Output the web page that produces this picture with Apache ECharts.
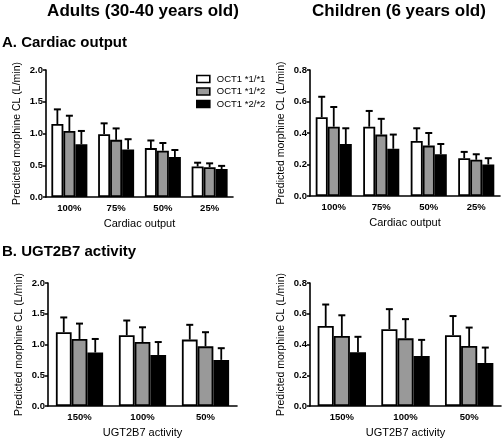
<!DOCTYPE html>
<html><head><meta charset="utf-8">
<script src="https://cdn.jsdelivr.net/npm/echarts@6/dist/echarts.min.js"></script>
<style>html,body{margin:0;padding:0;background:#fff}#c{width:502px;height:439px}</style>
</head><body><div id="c"></div>
<script>
const cardiacCats = ['100%','75%','50%','25%'];
const ugtCats = ['150%','100%','50%'];
const seriesNames = ['OCT1 *1/*1','OCT1 *1/*2','OCT1 *2/*2'];

// Adults, cardiac output
const adultCO_11 = [1.15,0.99,0.77,0.48], adultCO_11_sd = [0.23,0.17,0.12,0.06];
const adultCO_12 = [1.04,0.90,0.73,0.47], adultCO_12_sd = [0.24,0.18,0.12,0.06];
const adultCO_22 = [0.83,0.75,0.63,0.44], adultCO_22_sd = [0.21,0.16,0.11,0.05];
// Children, cardiac output
const childCO_11 = [0.50,0.44,0.35,0.24], childCO_11_sd = [0.13,0.10,0.08,0.04];
const childCO_12 = [0.44,0.39,0.32,0.23], childCO_12_sd = [0.125,0.10,0.08,0.035];
const childCO_22 = [0.33,0.30,0.265,0.20], childCO_22_sd = [0.10,0.09,0.065,0.04];
// Adults, UGT2B7 activity
const adultUGT_11 = [1.20,1.15,1.08], adultUGT_11_sd = [0.24,0.24,0.24];
const adultUGT_12 = [1.09,1.04,0.97], adultUGT_12_sd = [0.25,0.24,0.23];
const adultUGT_22 = [0.87,0.83,0.75], adultUGT_22_sd = [0.22,0.21,0.19];
// Children, UGT2B7 activity
const childUGT_11 = [0.52,0.50,0.46], childUGT_11_sd = [0.14,0.13,0.125];
const childUGT_12 = [0.455,0.44,0.39], childUGT_12_sd = [0.135,0.125,0.12];
const childUGT_22 = [0.35,0.325,0.28], childUGT_22_sd = [0.10,0.105,0.10];

const adultTicks = {min:0, max:2.0, interval:0.5};
const childTicks = {min:0, max:0.8, interval:0.2};

const fills = ['#ffffff','#999999','#000000'];
const FONT = 'Liberation Sans, Arial, sans-serif';

const panels = [
  {cats: cardiacCats, ticks: adultTicks, name:'Cardiac output', gap:0.23,
   vals:[adultCO_11,adultCO_12,adultCO_22], sds:[adultCO_11_sd,adultCO_12_sd,adultCO_22_sd],
   grid:{left:46, top:70, width:187, height:127}},
  {cats: cardiacCats, ticks: childTicks, name:'Cardiac output', gap:0.24,
   vals:[childCO_11,childCO_12,childCO_22], sds:[childCO_11_sd,childCO_12_sd,childCO_22_sd],
   grid:{left:310, top:70, width:190, height:126}},
  {cats: ugtCats, ticks: adultTicks, name:'UGT2B7 activity', gap:0.25,
   vals:[adultUGT_11,adultUGT_12,adultUGT_22], sds:[adultUGT_11_sd,adultUGT_12_sd,adultUGT_22_sd],
   grid:{left:48, top:283, width:189, height:124}},
  {cats: ugtCats, ticks: childTicks, name:'UGT2B7 activity', gap:0.24,
   vals:[childUGT_11,childUGT_12,childUGT_22], sds:[childUGT_11_sd,childUGT_12_sd,childUGT_22_sd],
   grid:{left:310, top:283, width:191, height:124}}
];

const grids=[], xAxes=[], yAxes=[], series=[];
panels.forEach((p, pi) => {
  grids.push(Object.assign({containLabel:false}, p.grid));
  xAxes.push({type:'category', gridIndex:pi, data:p.cats,
    name:p.name, nameLocation:'middle', nameGap:21,
    nameTextStyle:{fontFamily:FONT, fontSize:11, color:'#000'},
    axisLine:{lineStyle:{color:'#000', width:1.6}},
    axisTick:{show:false},
    axisLabel:{fontFamily:FONT, fontSize:9.5, fontWeight:'bold', color:'#000', margin:6}});
  yAxes.push({type:'value', gridIndex:pi, min:p.ticks.min, max:p.ticks.max, interval:p.ticks.interval,
    name:'Predicted morphine CL (L/min)', nameLocation:'middle', nameGap:23,
    nameTextStyle:{fontFamily:FONT, fontSize:10.5, color:'#000'},
    splitLine:{show:false},
    axisLine:{show:true, lineStyle:{color:'#000', width:1.6}},
    axisTick:{show:true, length:3, lineStyle:{color:'#000', width:1.5}},
    axisLabel:{fontFamily:FONT, fontSize:9.5, fontWeight:'bold', color:'#000', margin:3,
      formatter: v => v.toFixed(1)}});
  for (let s=0; s<3; s++) {
    series.push({type:'bar', name:seriesNames[s], xAxisIndex:pi, yAxisIndex:pi,
      data:p.vals[s], barGap:'0%', barCategoryGap:(p.gap*100)+'%',
      itemStyle:{color:fills[s], borderColor:'#000', borderWidth:1.8},
      emphasis:{disabled:true}, z:2});
  }
  for (let s=0; s<3; s++) {
    const gap = p.gap;
    const errData = p.vals[s].map((v,i)=>[i, v, v + p.sds[s][i]]);
    series.push({type:'custom', xAxisIndex:pi, yAxisIndex:pi, z:1,
      data: errData, encode:{x:0, y:[1,2]}, silent:true,
      renderItem:(params, api) => {
        const band = api.size([1,0])[0];
        const bw = band*(1-gap)/3;
        const off = (s-1)*bw;
        const base = api.coord([api.value(0), api.value(1)]);
        const top = api.coord([api.value(0), api.value(2)]);
        const x = base[0] + off;
        const cap = 3.5;
        return {type:'group', children:[
          {type:'line', shape:{x1:x, y1:base[1], x2:x, y2:top[1]}, style:{stroke:'#000', lineWidth:1.8}},
          {type:'line', shape:{x1:x-cap, y1:top[1], x2:x+cap, y2:top[1]}, style:{stroke:'#000', lineWidth:2}}
        ]};
      }});
  }
});

const option = {
  animation:false,
  backgroundColor:'#fff',
  title:[
    {text:'Adults (30-40 years old)', left:143, top:3, textAlign:'center', padding:0,
     textStyle:{fontFamily:FONT, fontSize:17, fontWeight:'bold', color:'#000'}},
    {text:'Children (6 years old)', left:399, top:3, textAlign:'center', padding:0,
     textStyle:{fontFamily:FONT, fontSize:17, fontWeight:'bold', color:'#000'}},
    {text:'A. Cardiac output', left:2, top:35, padding:0,
     textStyle:{fontFamily:FONT, fontSize:15, fontWeight:'bold', color:'#000'}},
    {text:'B. UGT2B7 activity', left:2, top:244, padding:0,
     textStyle:{fontFamily:FONT, fontSize:15, fontWeight:'bold', color:'#000'}}
  ],
  legend:{data:seriesNames, orient:'vertical', left:196, top:74, itemWidth:13, itemHeight:7,
    itemGap:2.5, icon:'rect', selectedMode:false, padding:0,
    textStyle:{fontFamily:FONT, fontSize:9.5, color:'#000', padding:[0,0,0,2]},
    itemStyle:{borderColor:'#000', borderWidth:1.6}},
  grid:grids, xAxis:xAxes, yAxis:yAxes, series:series
};
const chart = echarts.init(document.getElementById('c'), null, {renderer:'canvas'});
chart.setOption(option);
</script></body></html>
